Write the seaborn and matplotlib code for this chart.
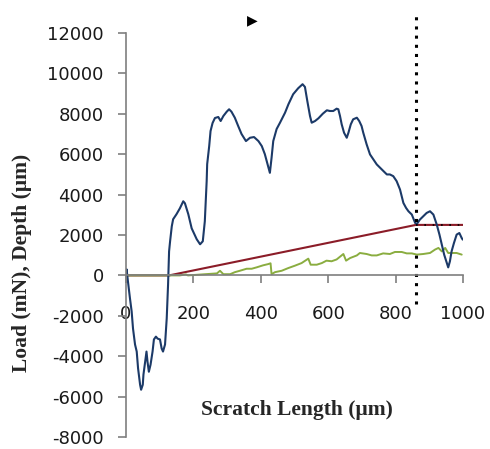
import matplotlib
matplotlib.use("Agg")
import matplotlib.pyplot as plt
import seaborn as sns
import pandas as pd

# ---- data ----
blue_x = [0, 2, 6, 12, 17, 21, 27, 32, 36, 42, 45, 50, 52, 56, 61, 64, 68, 73, 79, 83, 89, 94, 101,
          106, 110, 116, 121, 125, 128, 131, 136, 140, 150, 160, 170, 175, 185, 195, 210, 220, 228,
          234, 239.5, 241, 247, 251, 257, 264, 274, 281, 289, 299, 306, 313, 323, 333, 343, 356,
          368, 380, 393, 403, 412, 419, 427, 432, 437, 447, 457, 472, 482, 496, 511, 524, 531, 538,
          546, 551, 561, 571, 584, 596, 605, 615, 625, 630, 635, 640, 647, 655, 660, 667, 674, 685,
          692, 699, 704, 714, 724, 734, 744, 754, 764, 774, 783, 793, 803, 813, 818, 823, 831, 838,
          848, 858, 863, 872, 882, 892, 902, 912, 922, 930, 937, 944, 952, 956, 961, 966, 973, 981,
          989, 996, 999]
blue_y = [0, 300, -300, -1140, -1790, -2630, -3420, -3770, -4600, -5410, -5660, -5410, -4910,
          -4420, -3770, -4270, -4770, -4420, -3770, -3170, -3030, -3130, -3170, -3620, -3770, -3420,
          -2130, -450, 1190, 1690, 2430, 2780, 3030, 3320, 3670, 3570, 3030, 2330, 1790, 1540, 1690,
          2680, 4665, 5509, 6402, 7147, 7544, 7792, 7842, 7643, 7891, 8105, 8224, 8105, 7807, 7395,
          6998, 6650, 6814, 6849, 6650, 6402, 6005, 5573, 5077, 5822, 6650, 7246, 7559, 8055, 8472,
          8968, 9266, 9465, 9330, 8636, 7891, 7559, 7643, 7777, 8005, 8174, 8139, 8139, 8254, 8224,
          7891, 7479, 7063, 6814, 7063, 7479, 7727, 7807, 7643, 7395, 7063, 6487, 5990, 5742, 5494,
          5325, 5162, 4998, 4998, 4913, 4665, 4253, 3921, 3588, 3340, 3176, 3012, 2596, 2546, 2764,
          2928, 3092, 3176, 3012, 2516, 2020, 1524, 1027, 610, 397, 695, 1191, 1603, 2020, 2099,
          1851, 1772]

red_x = [0, 128, 860, 1000]
red_y = [0, 0, 2500, 2500]

green_x = [0, 160, 178, 184, 270, 279, 289, 309, 323, 338, 358, 373, 388, 407, 422, 429, 432,
           442, 462, 481, 501, 521, 541, 548, 566, 581, 595, 610, 625, 645, 653, 665, 685, 694,
           714, 729, 744, 763, 783, 798, 818, 833, 848, 863, 882, 902, 917, 927, 937, 947, 956,
           966, 981, 996]
green_y = [0, 0, 50, 0, 100, 230, 60, 60, 160, 230, 330, 330, 400, 500, 560, 600, 60, 160, 230,
           360, 480, 610, 830, 530, 530, 610, 730, 700, 790, 1060, 730, 860, 990, 1110, 1060, 990,
           990, 1090, 1060, 1160, 1160, 1090, 1090, 1030, 1060, 1110, 1280, 1360, 1190, 1360, 1110,
           1110, 1110, 1030]

x_ticks = [0, 200, 400, 600, 800, 1000]
y_ticks = [-8000, -6000, -4000, -2000, 0, 2000, 4000, 6000, 8000, 10000, 12000]
critical_x = 860

# ---- figure ----
sns.set_style("white")
plt.rcParams["font.family"] = ["DejaVu Sans"]
plt.rcParams["axes.unicode_minus"] = False

fig = plt.figure(figsize=(4.9, 4.49), dpi=100)
ax = fig.add_axes([0.257, 0.0267, 0.688, 0.8998])

df_b = pd.DataFrame({"x": blue_x, "y": blue_y})
df_r = pd.DataFrame({"x": red_x, "y": red_y})
df_g = pd.DataFrame({"x": green_x, "y": green_y})

sns.lineplot(data=df_r, x="x", y="y", ax=ax, color="#8b1c28", lw=1.5, sort=False, estimator=None)
sns.lineplot(data=df_g, x="x", y="y", ax=ax, color="#8aad40", lw=1.4, sort=False, estimator=None)
sns.lineplot(data=df_b, x="x", y="y", ax=ax, color="#1c3a68", lw=1.5, sort=False, estimator=None)

# dotted marker line along the flat load part and the vertical critical line
ax.plot([critical_x, 1000], [2500, 2500], color="black", lw=1.2, ls=(0, (1, 4)), clip_on=False)
ax.plot([critical_x, critical_x], [-1400, 13100], color="black", lw=2.2, ls=(0, (1, 2)),
        dash_capstyle="butt", clip_on=False)

ax.set_xlim(0, 1000)
ax.set_ylim(-8000, 12000)
ax.set_xticks(x_ticks)
ax.set_yticks(y_ticks)
ax.set_xlabel("")
ax.set_ylabel("")

for s in ["top", "right"]:
    ax.spines[s].set_visible(False)
ax.spines["bottom"].set_position(("data", 0))
for s in ["left", "bottom"]:
    ax.spines[s].set_color("#7f7f7f")
    ax.spines[s].set_linewidth(1.2)

ax.tick_params(axis="y", direction="out", length=6, width=1.2, color="#7f7f7f",
               pad=10, labelsize=13, labelcolor="#1a1a1a", left=True)
ax.tick_params(axis="x", direction="out", length=6, width=1.2, color="#7f7f7f",
               pad=15, labelsize=13, labelcolor="#1a1a1a", bottom=True)

fig.text(22 / 490, 1 - 263 / 449, "Load (mN), Depth (μm)", rotation=90, ha="center", va="center",
         fontsize=15.5, fontweight="bold", family=["Liberation Serif", "DejaVu Serif"])
fig.text(297 / 490, 1 - 410 / 449, "Scratch Length (μm)", ha="center", va="center",
         fontsize=15.5, fontweight="bold", family=["Liberation Serif", "DejaVu Serif"])
fig.text(252 / 490, 1 - 20 / 449, "▶", ha="center", va="center", fontsize=10, color="black")

fig.savefig("out.png", dpi=100)
